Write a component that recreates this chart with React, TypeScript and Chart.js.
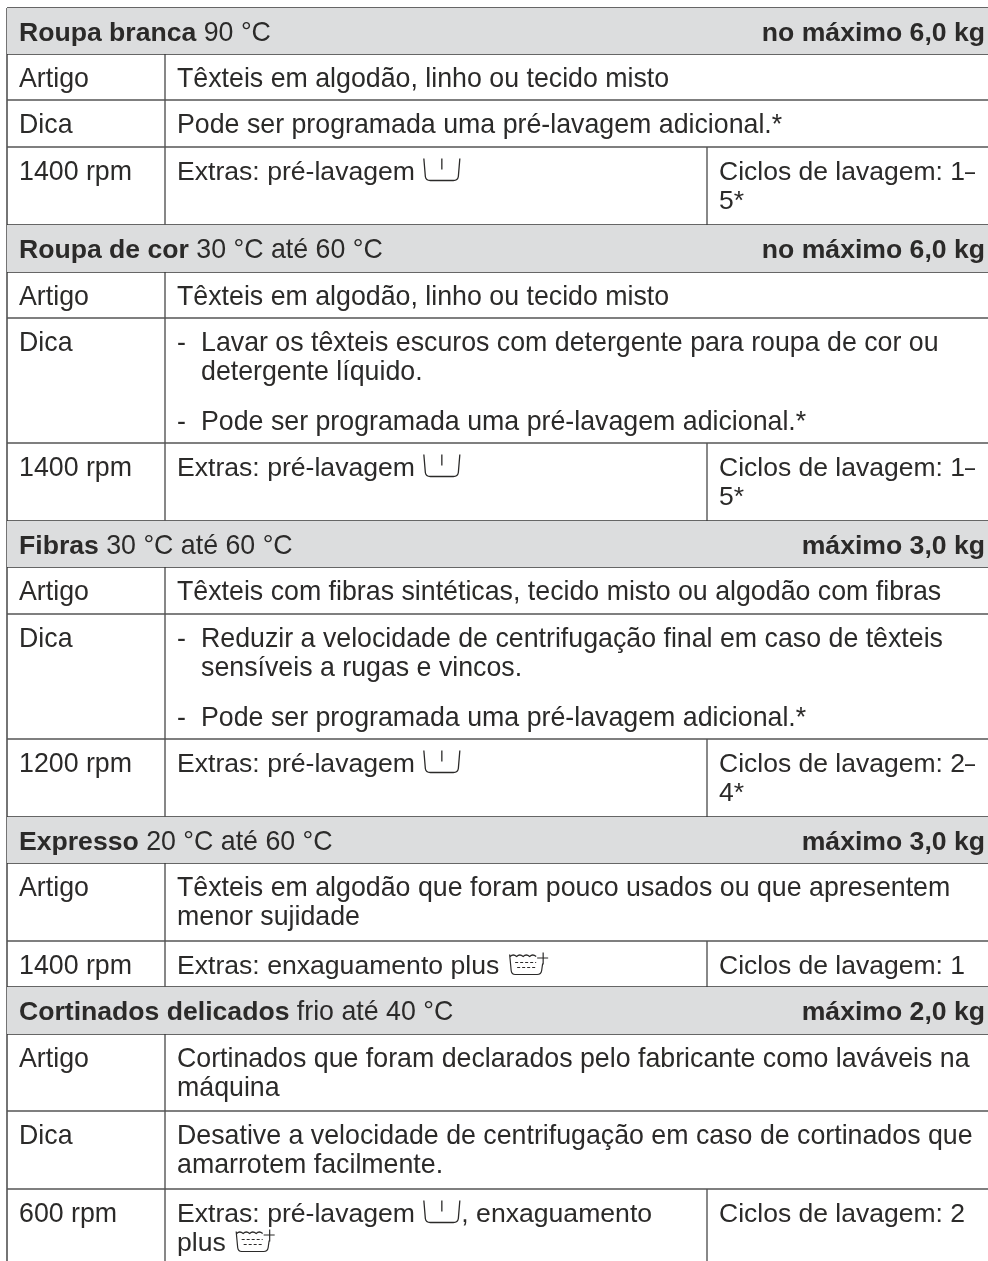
import React, { useEffect, useRef } from "react";
import { Chart, registerables } from "chart.js";

Chart.register(...registerables);

// ---- table content ----
const headTitles = ["Roupa branca", "Roupa de cor", "Fibras", "Expresso", "Cortinados delicados"];
const headRanges = ["90 °C", "30 °C até 60 °C", "30 °C até 60 °C", "20 °C até 60 °C", "frio até 40 °C"];
const headLoads = ["no máximo 6,0 kg", "no máximo 6,0 kg", "máximo 3,0 kg", "máximo 3,0 kg", "máximo 2,0 kg"];

const rowKinds = ["h", "a", "d", "s", "h", "a", "d", "s", "h", "a", "d", "s", "h", "a", "s", "h", "a", "d", "s"];
const speeds = ["1400 rpm", "1400 rpm", "1200 rpm", "1400 rpm", "600 rpm"];
const articles = [
  ["Têxteis em algodão, linho ou tecido misto"],
  ["Têxteis em algodão, linho ou tecido misto"],
  ["Têxteis com fibras sintéticas, tecido misto ou algodão com fibras"],
  ["Têxteis em algodão que foram pouco usados ou que apresentem", "menor sujidade"],
  ["Cortinados que foram declarados pelo fabricante como laváveis na", "máquina"],
];
const tips = [
  ["Pode ser programada uma pré-lavagem adicional.*"],
  ["- Lavar os têxteis escuros com detergente para roupa de cor ou", "  detergente líquido.", "- Pode ser programada uma pré-lavagem adicional.*"],
  ["- Reduzir a velocidade de centrifugação final em caso de têxteis", "  sensíveis a rugas e vincos.", "- Pode ser programada uma pré-lavagem adicional.*"],
  ["Desative a velocidade de centrifugação em caso de cortinados que", "amarrotem facilmente."],
];
const extras = [
  ["Extras: pré-lavagem {p}"],
  ["Extras: pré-lavagem {p}"],
  ["Extras: pré-lavagem {p}"],
  ["Extras: enxaguamento plus {r}"],
  ["Extras: pré-lavagem {p}, enxaguamento", "plus {r}"],
];
const cycles = [
  ["Ciclos de lavagem: 1–", "5*"],
  ["Ciclos de lavagem: 1–", "5*"],
  ["Ciclos de lavagem: 2–", "4*"],
  ["Ciclos de lavagem: 1"],
  ["Ciclos de lavagem: 2"],
];

// ---- table geometry, on the chart's two linear scales ----
const rowEdges = [8, 54, 100, 147, 225, 272, 318, 443, 521, 567, 614, 739, 817, 863, 941, 987, 1034, 1111, 1189, 1261];
const columnEdges = [7, 165, 707, 988];

const INK = "#2b2a29";
const FONT = '"Liberation Sans", Arial, sans-serif';
const SIZE = 26.75;
const BOLD_SIZE = 26.6;
const EXTRA_SIZE = 26.6;
const CYCLE_SIZE = 26.5;

function buildDatasets() {
  const sets: any[] = [];
  const [left, c1, c2, right] = columnEdges;
  rowKinds.forEach((k, i) => {
    const top = rowEdges[i];
    const bottom = rowEdges[i + 1];
    if (k === "h") {
      sets.push({
        data: [{ x: left, y: top }, { x: right, y: top }],
        fill: { target: { value: bottom } },
        backgroundColor: "#dcddde",
        borderWidth: 0,
        pointRadius: 0,
      });
    }
  });
  const rule = (x0: number, y0: number, x1: number, y1: number, color: string, w: number) =>
    sets.push({
      data: [{ x: x0, y: y0 }, { x: x1, y: y1 }],
      borderColor: color,
      borderWidth: w,
      pointRadius: 0,
      fill: false,
    });
  rowKinds.forEach((k, i) => {
    const top = rowEdges[i];
    const bottom = rowEdges[i + 1];
    const afterHead = i > 0 && rowKinds[i - 1] === "h";
    rule(left, top, right, top, k === "h" || afterHead ? "#333333" : "#555555", 1.3);
    if (k !== "h") rule(c1, top, c1, bottom, "#555555", 1.4);
    if (k === "s") rule(c2, top, c2, bottom, "#3a3a3a", 1.2);
  });
  rule(left, rowEdges[0], left, rowEdges[rowEdges.length - 1], "#666666", 1.8);
  return sets;
}

function drawPrewash(ctx: CanvasRenderingContext2D, x: number, base: number) {
  ctx.save();
  ctx.strokeStyle = INK;
  ctx.lineWidth = 1.3;
  ctx.beginPath();
  ctx.moveTo(x + 0.5, base - 21);
  ctx.lineTo(x + 2, base - 3);
  ctx.quadraticCurveTo(x + 2.5, base + 1, x + 7, base + 1);
  ctx.lineTo(x + 30, base + 1);
  ctx.quadraticCurveTo(x + 34.5, base + 1, x + 35, base - 3);
  ctx.lineTo(x + 36.5, base - 21);
  ctx.moveTo(x + 18.5, base - 21);
  ctx.lineTo(x + 18.5, base - 10);
  ctx.stroke();
  ctx.restore();
}

function drawRinse(ctx: CanvasRenderingContext2D, x: number, base: number) {
  ctx.save();
  ctx.strokeStyle = INK;
  ctx.lineWidth = 1.2;
  ctx.beginPath();
  ctx.moveTo(x + 0.5, base - 19);
  ctx.lineTo(x + 2, base - 3);
  ctx.quadraticCurveTo(x + 2.5, base + 1, x + 6, base + 1);
  ctx.lineTo(x + 28, base + 1);
  ctx.quadraticCurveTo(x + 32, base + 1, x + 32.5, base - 3);
  ctx.lineTo(x + 33.5, base - 10);
  // wave
  ctx.moveTo(x + 1, base - 17);
  for (let i = 0; i < 4; i++) {
    ctx.quadraticCurveTo(x + 4 + i * 6.5, base - 20, x + 7.5 + i * 6.5, base - 17);
  }
  // plus
  ctx.moveTo(x + 34, base - 21);
  ctx.lineTo(x + 34, base - 9);
  ctx.moveTo(x + 28, base - 15.5);
  ctx.lineTo(x + 39, base - 15.5);
  ctx.stroke();
  ctx.setLineDash([3, 2]);
  ctx.beginPath();
  ctx.moveTo(x + 6, base - 11);
  ctx.lineTo(x + 27, base - 11);
  ctx.moveTo(x + 8, base - 6);
  ctx.lineTo(x + 26, base - 6);
  ctx.stroke();
  ctx.restore();
}

function drawRich(ctx: CanvasRenderingContext2D, text: string, x: number, y: number) {
  const parts = text.split(/(\{p\}|\{r\}|–)/);
  let cx = x;
  parts.forEach((part) => {
    if (part === "{p}") {
      drawPrewash(ctx, cx + 1, y);
      cx += 39;
    } else if (part === "{r}") {
      drawRinse(ctx, cx + 2.5, y);
      cx += 41;
    } else if (part === "–") {
      ctx.save();
      ctx.translate(cx, y);
      ctx.scale(0.68, 1);
      ctx.fillText(part, 0, 0);
      ctx.restore();
      cx += ctx.measureText(part).width * 0.68;
    } else if (part) {
      ctx.fillText(part, cx, y);
      cx += ctx.measureText(part).width;
    }
  });
}

const tablePlugin = {
  id: "tableText",
  afterDatasetsDraw(chart: any) {
    const ctx: CanvasRenderingContext2D = chart.ctx;
    const sx = chart.scales.x;
    const sy = chart.scales.y;
    const px = (v: number) => sx.getPixelForValue(v);
    const py = (v: number) => sy.getPixelForValue(v);
    const [, c1, c2] = columnEdges;
    const PAD = 12;
    const BASE = 32.5;
    const PITCH = 29;
    const GAP = 21;
    ctx.save();
    ctx.fillStyle = INK;
    ctx.textBaseline = "alphabetic";

    const cell = (lines: string[], x: number, top: number) => {
      let y = top + BASE;
      lines.forEach((line, i) => {
        if (i > 0 && line.startsWith("- ")) y += GAP;
        if (line.startsWith("- ")) {
          ctx.fillText("-", px(x), py(y));
          drawRich(ctx, line.slice(2), px(x + 24), py(y));
        } else if (line.startsWith("  ")) {
          drawRich(ctx, line.slice(2), px(x + 24), py(y));
        } else {
          drawRich(ctx, line, px(x), py(y));
        }
        y += PITCH;
      });
    };

    let h = 0, a = 0, d = 0, s = 0;
    rowKinds.forEach((k, i) => {
      const top = rowEdges[i];
      ctx.textAlign = "left";
      if (k === "h") {
        const y = py(top + BASE);
        ctx.font = `bold ${BOLD_SIZE}px ${FONT}`;
        ctx.fillText(headTitles[h], px(columnEdges[0] + PAD), y);
        const tw = ctx.measureText(headTitles[h] + " ").width;
        ctx.font = `${SIZE}px ${FONT}`;
        ctx.fillText(headRanges[h], px(columnEdges[0] + PAD) + tw, y);
        ctx.font = `bold ${BOLD_SIZE}px ${FONT}`;
        ctx.textAlign = "right";
        ctx.fillText(headLoads[h], px(985), y);
        h++;
        return;
      }
      ctx.font = `${SIZE}px ${FONT}`;
      if (k === "a") {
        cell(["Artigo"], columnEdges[0] + PAD, top);
        cell(articles[a++], c1 + PAD, top);
      } else if (k === "d") {
        cell(["Dica"], columnEdges[0] + PAD, top);
        cell(tips[d++], c1 + PAD, top);
      } else {
        cell([speeds[s]], columnEdges[0] + PAD, top);
        ctx.font = `${EXTRA_SIZE}px ${FONT}`;
        cell(extras[s], c1 + PAD, top);
        ctx.font = `${CYCLE_SIZE}px ${FONT}`;
        cell(cycles[s], c2 + PAD, top);
        s++;
      }
    });
    ctx.restore();
  },
};

export default function App() {
  const ref = useRef<HTMLCanvasElement | null>(null);
  useEffect(() => {
    document.body.style.margin = "0";
    document.body.style.background = "#ffffff";
    const chart = new Chart(ref.current as HTMLCanvasElement, {
      type: "line",
      data: { datasets: buildDatasets() },
      plugins: [tablePlugin],
      options: {
        animation: false,
        responsive: false,
        parsing: false,
        normalized: true,
        layout: { padding: 0 },
        plugins: { legend: { display: false }, tooltip: { enabled: false }, title: { display: false } },
        scales: {
          x: { type: "linear", display: false, min: 0, max: 988 },
          y: { type: "linear", display: false, min: 0, max: 1261, reverse: true },
        },
      },
    } as any);
    return () => chart.destroy();
  }, []);
  return <canvas ref={ref} width={988} height={1261} style={{ display: "block", width: 988, height: 1261 }} />;
}
